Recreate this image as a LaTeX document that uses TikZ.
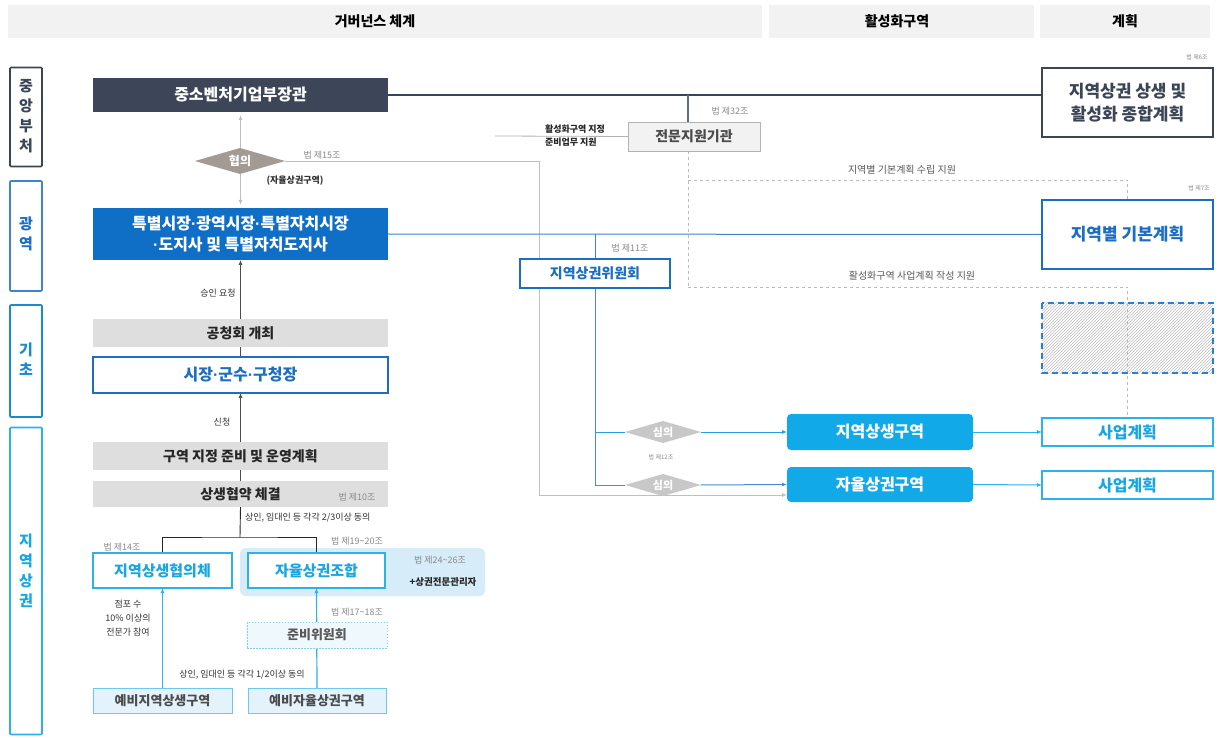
\documentclass[tikz,border=0pt]{standalone}
\usepackage{fontspec}
\setmainfont{Noto Sans CJK KR}
\newfontfamily\latinf{Liberation Sans}
\newcommand\mdot{{\latinf ·}}
\usetikzlibrary{arrows.meta,shapes.geometric,patterns}
\pgfdeclarelayer{bg}
\pgfdeclarelayer{back}
\pgfsetlayers{back,bg,main}
\definecolor{navy}{HTML}{3D4659}
\definecolor{darkline}{HTML}{3C4556}
\definecolor{govblue}{HTML}{0F6FC6}
\definecolor{bluetxt}{HTML}{1B6EC2}
\definecolor{cyanfill}{HTML}{12A9E8}
\definecolor{cyanline}{HTML}{2BB2EA}
\definecolor{cyantxt}{HTML}{18A6E2}
\definecolor{ltcyan}{HTML}{E4F3FB}
\definecolor{bgcyan}{HTML}{D6ECF9}
\definecolor{boxgray}{HTML}{DEDEDE}
\definecolor{dia1}{HTML}{A39A93}
\definecolor{dia2}{HTML}{C8C8C8}
\definecolor{lawgray}{HTML}{8A8A8A}
\definecolor{hdr}{HTML}{F2F2F2}
\definecolor{dashgray}{HTML}{BBBBBB}
\definecolor{midblue}{HTML}{2A7ED4}
\begin{document}
\begin{tikzpicture}[x=1pt,y=-1pt,
  every node/.style={inner sep=0pt,outer sep=0pt},
  fnt/.style={font=\bfseries\fontsize{#1}{#1}\selectfont},
  hdrtxt/.style={fnt=14,text=black},
  sidebox/.style={draw,line width=1.6pt,minimum width=32pt,rounded corners=1pt},
  sidetxt/.style={align=center,font=\bfseries\fontsize{15}{20}\selectfont},
  mainbox/.style={minimum width=295pt},
  graybox/.style={mainbox,fill=boxgray,fnt=14,text=black!85},
  law/.style={font=\fontsize{9}{11}\selectfont,text=lawgray},
  tinylaw/.style={font=\fontsize{6}{7}\selectfont,text=lawgray},
  note/.style={font=\fontsize{9}{14}\selectfont,text=black!80},
  cybox/.style={draw=cyanline,line width=1.5pt,fill=white,fnt=15,text=cyantxt},
  yebox/.style={draw=cyanline!70,line width=0.8pt,fill=ltcyan,fnt=13,text=black!70,minimum height=25pt},
  rbox/.style={minimum width=171pt,fill=white},
  zone/.style={fill=cyanfill,rounded corners=4pt,minimum width=186pt,fnt=16,text=white},
  saup/.style={rbox,draw=cyanline,line width=1.3pt,minimum height=28pt,fnt=16,text=cyantxt},
  dia/.style={diamond,aspect=3.2,inner sep=0pt,text=white},
  arr/.style={-{Latex[length=5pt,width=4pt]}},
  dashedline/.style={draw=dashgray,line width=0.7pt,dash pattern=on 3pt off 3pt}
]
\useasboundingbox (0,0) rectangle (1219,738);
\begin{pgfonlayer}{back}
\fill[white] (0,0) rectangle (1219,738);
\fill[hdr] (8,5) rectangle (762,38);
\fill[hdr] (769,5) rectangle (1034,38);
\fill[hdr] (1040,5) rectangle (1210,38);
\fill[bgcyan,rounded corners=6pt] (240,548) rectangle (485,596);
\end{pgfonlayer}

% header
\node[hdrtxt] (h1) at (375,21) {거버넌스 체계};
\node[hdrtxt] (h2) at (897,21) {활성화구역};
\node[hdrtxt] (h3) at (1125,21) {계획};

% side labels
\node[sidebox,draw=darkline,minimum height=99pt] (s1) at (26,117) {};
\node[sidetxt,text=darkline] (s1t) at (26,116) {중\\앙\\부\\처};
\node[sidebox,draw=bluetxt!85,minimum height=110pt] (s2) at (26,236) {};
\node[sidetxt,text=bluetxt] (s2t) at (26,234) {광\\역};
\node[sidebox,draw=bluetxt!80!cyan,minimum height=112pt] (s3) at (26,361) {};
\node[sidetxt,text=bluetxt!80!cyan] (s3t) at (26,359) {기\\초};
\node[sidebox,draw=cyanline,minimum height=307pt] (s4) at (26,581) {};
\node[sidetxt,text=cyantxt] (s4t) at (26,571) {지\\역\\상\\권};

% left column
\node[mainbox,fill=navy,minimum height=34pt,fnt=16,text=white] (mss) at (240.5,95) {중소벤처기업부장관};
\node[dia,fill=dia1,minimum width=90pt,minimum height=26pt,fnt=12] (hyeop) at (240,161) {협의};
\node[font=\bfseries\fontsize{9}{11}\selectfont,text=black!80] (jayulnote) at (295,181) {(자율상권구역)};
\node[law] (law15) at (322,155) {법 제15조};
\node[mainbox,fill=govblue,minimum height=52pt,text=white,align=center,font=\bfseries\fontsize{16}{21}\selectfont] (gov) at (240.5,234) {특별시장\mdot 광역시장\mdot 특별자치시장\\\mdot 도지사 및 특별자치도지사};
\node[note] (req) at (218,293) {승인 요청};
\node[graybox,minimum height=28pt] (gong) at (240.5,333) {공청회 개최};
\node[mainbox,draw=bluetxt,line width=1.5pt,fill=white,minimum height=36pt,fnt=16,text=bluetxt] (sijang) at (240.5,375) {시장\mdot 군수\mdot 구청장};
\node[note] (apply) at (222,422) {신청};
\node[graybox,minimum height=28pt] (guyeok) at (240.5,456) {구역 지정 준비 및 운영계획};
\node[graybox,minimum height=26pt] (hyeopyak) at (240.5,494) {상생협약 체결};
\node[law] (law10) at (357,497) {법 제10조};
\node[note,anchor=west] (agree23) at (245,518) {상인, 임대인 등 각각 2/3이상 동의};
\coordinate (split) at (240,537);

\node[cybox,minimum width=139pt,minimum height=35pt] (jhc) at (162.5,570.5) {지역상생협의체};
\node[cybox,minimum width=137pt,minimum height=35pt] (jhj) at (316.5,570.5) {자율상권조합};
\node[law] (law14) at (122,547) {법 제14조};
\node[law] (law1920) at (357,541) {법 제19\textasciitilde20조};
\node[law] (law2426) at (440,560) {법 제24\textasciitilde26조};
\node[font=\bfseries\fontsize{9.5}{12}\selectfont,text=black!85] (mgr) at (443,582) {+상권전문관리자};
\node[note,align=center] (expert) at (128,618) {점포 수\\10\% 이상의\\전문가 참여};
\node[law] (law1718) at (357,612) {법 제17\textasciitilde18조};
\node[draw=cyanline!60,dash pattern=on 1.5pt off 1.5pt,line width=0.8pt,fill=ltcyan!60,minimum width=140pt,minimum height=26pt,fnt=13,text=black!65] (junbi) at (317,635) {준비위원회};
\node[note] (agree12) at (242,675) {상인, 임대인 등 각각 1/2이상 동의};
\node[yebox,minimum width=139pt] (yebi1) at (162.5,700.5) {예비지역상생구역};
\node[yebox,minimum width=138pt] (yebi2) at (317,700.5) {예비자율상권구역};

% middle
\node[draw=black!30,line width=0.8pt,fill=black!5,minimum width=132pt,minimum height=29pt,fnt=14,text=black!70] (jeonmun) at (694,136.5) {전문지원기관};
\node[law] (law32) at (730,111) {법 제32조};
\node[font=\bfseries\fontsize{9}{13}\selectfont,align=left,text=black!85,anchor=west] (hwal) at (545,136) {활성화구역 지정\\준비업무 지원};
\coordinate (cleft) at (495,136);
\coordinate (cv) at (688,95);
\coordinate (c180) at (688,180);
\coordinate (c287) at (688,287);
\node[font=\fontsize{10}{12}\selectfont,text=black!65] (supA) at (902,170) {지역별 기본계획 수립 지원};
\node[font=\fontsize{10}{12}\selectfont,text=black!65] (supB) at (912,276) {활성화구역 사업계획 작성 지원};
\node[draw=bluetxt,line width=1.8pt,fill=white,minimum width=150pt,minimum height=29pt,fnt=14,text=bluetxt] (wiwon) at (595,273.5) {지역상권위원회};
\node[law] (law11) at (630,248) {법 제11조};
\node[dia,fill=dia2,minimum width=76pt,minimum height=22pt,fnt=11] (simA) at (663,432) {심의};
\node[dia,fill=dia2,minimum width=76pt,minimum height=22pt,fnt=11] (simB) at (663,485) {심의};
\node[tinylaw] (law12) at (661,457) {법 제12조};
\node[zone,minimum height=36pt] (zoneA) at (880,432) {지역상생구역};
\node[zone,minimum height=35pt] (zoneB) at (880,484.5) {자율상권구역};
\coordinate (c495) at (539,495);

% right
\node[rbox,draw=darkline,line width=2pt,minimum height=69pt,align=center,font=\bfseries\fontsize{17}{23}\selectfont,text=darkline] (jonghap) at (1127.5,102.5) {지역상권 상생 및\\활성화 종합계획};
\node[tinylaw] (law6) at (1197,57) {법 제6조};
\node[rbox,draw=bluetxt,line width=1.5pt,minimum height=69pt,fnt=17,text=bluetxt] (giban) at (1127.5,234.5) {지역별 기본계획};
\node[tinylaw] (law7) at (1199,188) {법 제7조};
\node[minimum width=171pt,minimum height=70pt,pattern=north east lines,pattern color=black!25] (hatch) at (1127.5,338) {};
\draw[midblue,line width=2pt,dash pattern=on 6pt off 4pt] (hatch.north west) rectangle (hatch.south east);
\node[saup] (saup1) at (1127.5,432) {사업계획};
\node[saup] (saup2) at (1127.5,485) {사업계획};

\begin{pgfonlayer}{bg}
  \draw[black!25,line width=0.9pt,{Latex[length=5pt,width=4pt]}-{Latex[length=5pt,width=4pt]}] ([yshift=-3pt]mss.south) -- ([yshift=3pt]gov.north);
  \draw[black!25,line width=0.9pt,arr] (hyeop.east) -| (c495) -- (c495 -| zoneB.west);
  \draw[black!70,line width=0.7pt,arr] (sijang.north) -- (gov.south);
  \draw[black!70,line width=0.7pt,arr] (hyeopyak.north) -- (sijang.south);
  \draw[black!85,line width=0.9pt] (hyeopyak.south) -- (split);
  \draw[black!85,line width=0.9pt] (jhc.north) |- (split) -| (jhj.north);
  \draw[cyanline,line width=1.2pt,arr] (yebi1.north) -- (jhc.south);
  \draw[cyanline,line width=1.2pt,arr] (yebi2.north) -- (jhj.south);
  \draw[darkline,line width=2pt] (mss.east) -- (mss.east -| jonghap.west);
  \draw[darkline!80,line width=1.5pt] (cv) -- (cv |- jeonmun.north);
  \draw[black!30,line width=0.8pt] (jeonmun.west) -- (cleft);
  \path[dashedline] (cv |- jeonmun.south) -- (c287);
  \path[dashedline] (c180) -| (giban.north);
  \path[dashedline] (c287) -| (saup1.north);
  \draw[bluetxt!85,line width=1pt] (gov.east) -- (giban.west);
  \draw[bluetxt!85,line width=1pt] (wiwon.north) -- (wiwon.north |- gov.east);
  \draw[cyanline!70!bluetxt,line width=0.9pt] (wiwon.south) |- (simA.west);
  \draw[bluetxt!80,line width=1pt] (wiwon.south) |- (simB.west);
  \draw[cyanline!70!bluetxt,line width=0.9pt,arr] (simA.east) -- (zoneA.west);
  \draw[bluetxt!80,line width=1pt,arr] (simB.east) -- (zoneB.west);
  \draw[cyanline,line width=1pt,arr] (zoneA.east) -- (saup1.west);
  \draw[cyanline,line width=1pt,arr] (zoneB.east) -- (saup2.west);
\end{pgfonlayer}
\end{tikzpicture}
\end{document}
